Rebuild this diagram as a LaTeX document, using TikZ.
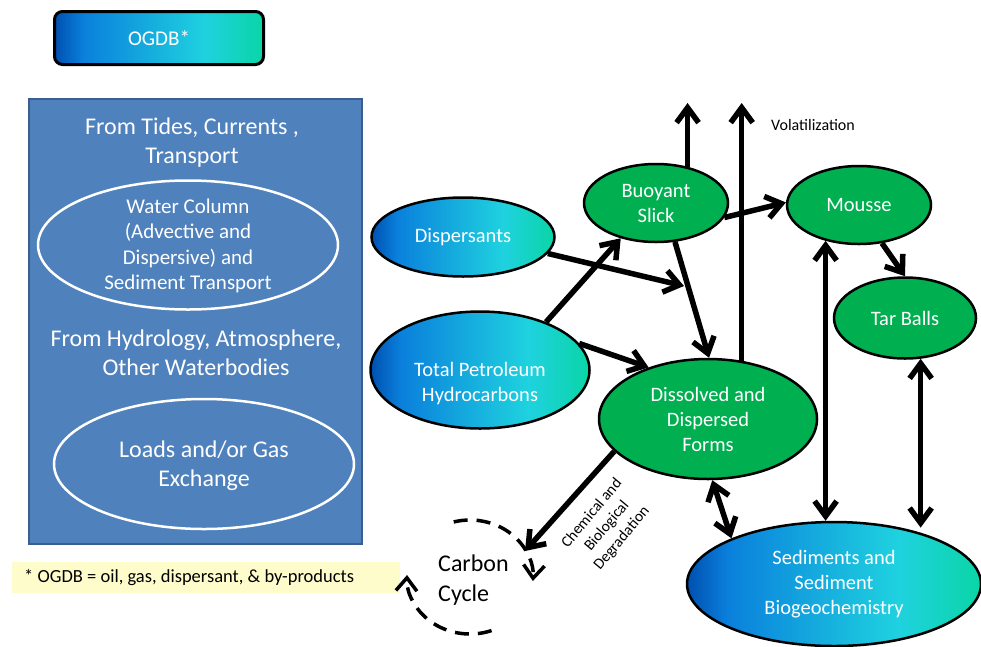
\documentclass[tikz,border=0pt]{standalone}
\usepackage{fontspec}
\setmainfont{Carlito}
\usetikzlibrary{arrows.meta,shapes.geometric,calc}

\definecolor{fadeA}{HTML}{0050B0}
\definecolor{fadeB}{HTML}{0A80DC}
\definecolor{fadeC}{HTML}{1FD2DF}
\definecolor{fadeD}{HTML}{0AD5A6}
\definecolor{slick}{HTML}{00B050}
\definecolor{boxblue}{HTML}{4F81BD}
\definecolor{boxedge}{HTML}{3A5F8F}
\definecolor{notefill}{RGB}{255,252,204}

% blue-to-teal fill used for the source / sink ovals
\pgfdeclarehorizontalshading{oilfade}{100bp}{color(0bp)=(fadeA); color(25bp)=(fadeA); color(32bp)=(fadeB); color(61bp)=(fadeC); color(75bp)=(fadeD); color(100bp)=(fadeD)}

\tikzset{
  oval/.style={ellipse, draw=black, line width=2.5pt, inner sep=0pt, text=white,
    align=center, font=\fontsize{20.5}{25}\selectfont},
  greenoval/.style={oval, fill=slick},
  fadeoval/.style={oval, shading=oilfade},
  nodetext/.style={inner sep=0pt, text=white, align=center, font=\fontsize{20.5}{25}\selectfont},
  paneltext/.style={inner sep=0pt, text=white, align=center, font=\fontsize{24}{29}\selectfont},
  panelring/.style={ellipse, draw=white, line width=2.5pt, inner sep=0pt},
  flow/.style={line width=5.5pt, -{Straight Barb[length=15pt,width=22pt]}},
  twoway/.style={line width=5.5pt, {Straight Barb[length=15pt,width=22pt]}-{Straight Barb[length=15pt,width=22pt]}},
  cycleflow/.style={line width=3.5pt, dash pattern=on 14pt off 9pt, -{Straight Barb[length=13pt,width=21pt]}},
}

\begin{document}
\frenchspacing
\begin{tikzpicture}[x=1pt,y=-1pt]
\useasboundingbox (0,0) rectangle (981,646);

% legend key
\node[draw=black, line width=3pt, rounded corners=8pt, shading=oilfade,
  minimum width=209pt, minimum height=53pt, text=white,
  font=\fontsize{21}{25}\selectfont] (key) at (159,38) {OGDB*};

% transport panel
\node[draw=boxedge, fill=boxblue, line width=2pt, minimum width=333pt,
  minimum height=445pt, inner sep=0pt] (panel) at (195.5,321.5) {};
\node[paneltext] (tides) at (192,143) {From Tides, Currents ,\\Transport};
\node[panelring, minimum width=300pt, minimum height=129pt] (water) at (188,245) {};
\node[inner sep=0pt, text=white, align=center, font=\fontsize{21}{25.5}\selectfont]
  (watertext) at (188,246) {Water Column\\(Advective and\\Dispersive) and\\Sediment Transport};
\node[paneltext] (hydro) at (196,353) {From Hydrology, Atmosphere,\\Other Waterbodies};
\node[panelring, minimum width=300pt, minimum height=130pt] (loads) at (204,464) {};
\node[paneltext] (loadstext) at (204,466) {Loads and/or Gas\\Exchange};

% footnote
\node[fill=notefill, anchor=west, minimum width=388pt, minimum height=31pt, inner sep=0pt]
  (note) at (12,577) {};
\node[anchor=west, inner sep=0pt, font=\fontsize{18.5}{22}\selectfont]
  (notetext) at (24,578) {* OGDB = oil, gas, dispersant, \& by-products};

% fate compartments
\node[fadeoval, minimum width=183pt, minimum height=79pt] (disp) at (463,237) {Dispersants};
\node[fadeoval, minimum width=219pt, minimum height=117pt] (tph) at (480,370) {};
\node[nodetext] (tphtext) at (480,384) {Total Petroleum\\Hydrocarbons};
\node[greenoval, minimum width=144pt, minimum height=78pt] (buoy) at (656,203) {Buoyant\\Slick};
\node[greenoval, minimum width=144pt, minimum height=78pt] (mousse) at (859,205) {Mousse};
\node[greenoval, minimum width=142pt, minimum height=81pt] (tar) at (905,318) {Tar Balls};
\node[greenoval, minimum width=218pt, minimum height=120pt] (diss) at (708,419) {Dissolved and\\Dispersed\\Forms};
\node[fadeoval, minimum width=294pt, minimum height=124pt] (sed) at (834,584) {Sediments and\\Sediment\\Biogeochemistry};
\node[anchor=west, inner sep=0pt, align=left, font=\fontsize{24}{30}\selectfont] (carbon) at (438,580) {Carbon\\Cycle};

% labels
\node[anchor=west, inner sep=0pt, font=\fontsize{16}{19}\selectfont] (vol) at (771,125) {Volatilization};
\node[rotate=50, inner sep=0pt, align=center, font=\fontsize{15.5}{19.5}\selectfont] (degr) at (607,526) {Chemical and\\Biological\\Degradation};

% free ends
\coordinate (vtop) at (0,103);
\coordinate (dt) at (684,286);
\coordinate (cyctip) at (525,551);
\coordinate (cyc) at (470,577);

% transfers
\draw[flow] (buoy.49) -- (buoy.49 |- vtop);
\draw[flow] (diss.60) -- (diss.60 |- vtop);
\draw[flow] (buoy.-12) -- (mousse.178);
\draw[flow] (mousse.-59) -- (tar.north);
\draw[flow] (disp.-11) -- (dt);
\draw[flow] (tph.36) -- (buoy.225);
\draw[flow] (buoy.-64) -- (diss.89);
\draw[flow] (tph.15) -- (diss.139);
\draw[flow] (diss.199) -- (cyctip);
\draw[twoway] (diss.-86) -- (sed.156);
\draw[twoway] (mousse.227) -- (mousse.227 |- sed.north);
\draw[twoway] (tar.-69) -- (tar.-69 |- sed.40);

% carbon cycle loop
\draw[cycleflow] ([shift={(255:63 and 57)}]cyc) arc[start angle=255, end angle=364, x radius=63, y radius=57];
\draw[cycleflow] ([shift={(70:63 and 57)}]cyc) arc[start angle=70, end angle=182, x radius=63, y radius=57];
\end{tikzpicture}
\end{document}
